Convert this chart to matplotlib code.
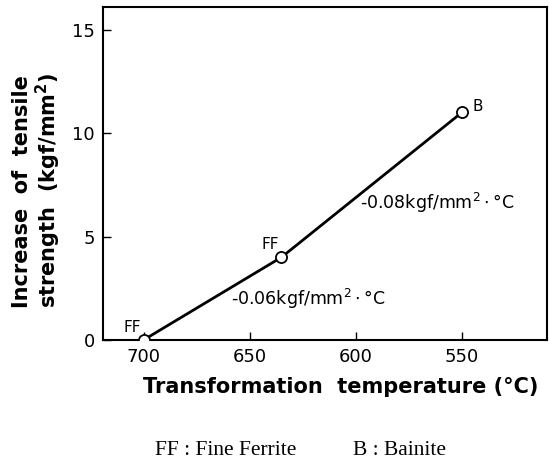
import matplotlib.pyplot as plt

# === Data ===
Temps = [700, 635, 550]
Strength = [0, 4, 11]
PointLabels = ['FF', 'FF', 'B']
XTicks = [700, 650, 600, 550]
YTicks = [0, 5, 10, 15]
Caption = ['FF : Fine Ferrite', 'B : Bainite']

plt.rcParams['font.family'] = ['DejaVu Sans']

fig = plt.figure(figsize=(5.49, 4.61), dpi=100)
ax = fig.add_axes([0.188, 0.2625, 0.808, 0.7225])

ax.plot(Temps, Strength, color='black', linewidth=2, marker='o', markersize=8,
        markerfacecolor='white', markeredgecolor='black', markeredgewidth=1.3, zorder=3)

# point labels
ax.text(Temps[0] + 1, Strength[0] + 0.25, PointLabels[0], ha='right', va='bottom', fontsize=11)
ax.text(Temps[1] + 1, Strength[1] + 0.25, PointLabels[1], ha='right', va='bottom', fontsize=11)
ax.text(Temps[2] - 5, Strength[2] - 0.1, PointLabels[2], ha='left', va='bottom', fontsize=11)

# slope labels
ax.text(598, 6.6, '-0.08kgf/mm$^2\\cdot$°C', fontsize=12.5, ha='left', va='center')
ax.text(659, 2.0, '-0.06kgf/mm$^2\\cdot$°C', fontsize=12.5, ha='left', va='center')

ax.set_xlim(719, 510)
ax.set_ylim(0, 16.1)
ax.set_xticks(XTicks)
ax.set_yticks(YTicks)
ax.tick_params(direction='in', length=6, width=1, labelsize=13, pad=6,
               top=False, right=False)
for s in ax.spines.values():
    s.set_linewidth(1.5)

ax.set_xlabel('Transformation  temperature (°C)', fontsize=15, fontweight='bold')
ax.xaxis.set_label_coords(0.536, -0.112)
ax.set_ylabel('Increase  of  tensile\nstrength  (kgf/mm$^\\mathbf{2}$)', fontsize=15,
              fontweight='bold', multialignment='left', linespacing=1.1)
ax.yaxis.set_label_coords(-0.09, 0.45)

fig.text(155 / 549, 0.022, Caption[0], ha='left', va='center', fontsize=15.5,
         family=['Liberation Serif', 'DejaVu Serif'])
fig.text(353 / 549, 0.022, Caption[1], ha='left', va='center', fontsize=15.5,
         family=['Liberation Serif', 'DejaVu Serif'])

fig.savefig('out.png', dpi=100)
